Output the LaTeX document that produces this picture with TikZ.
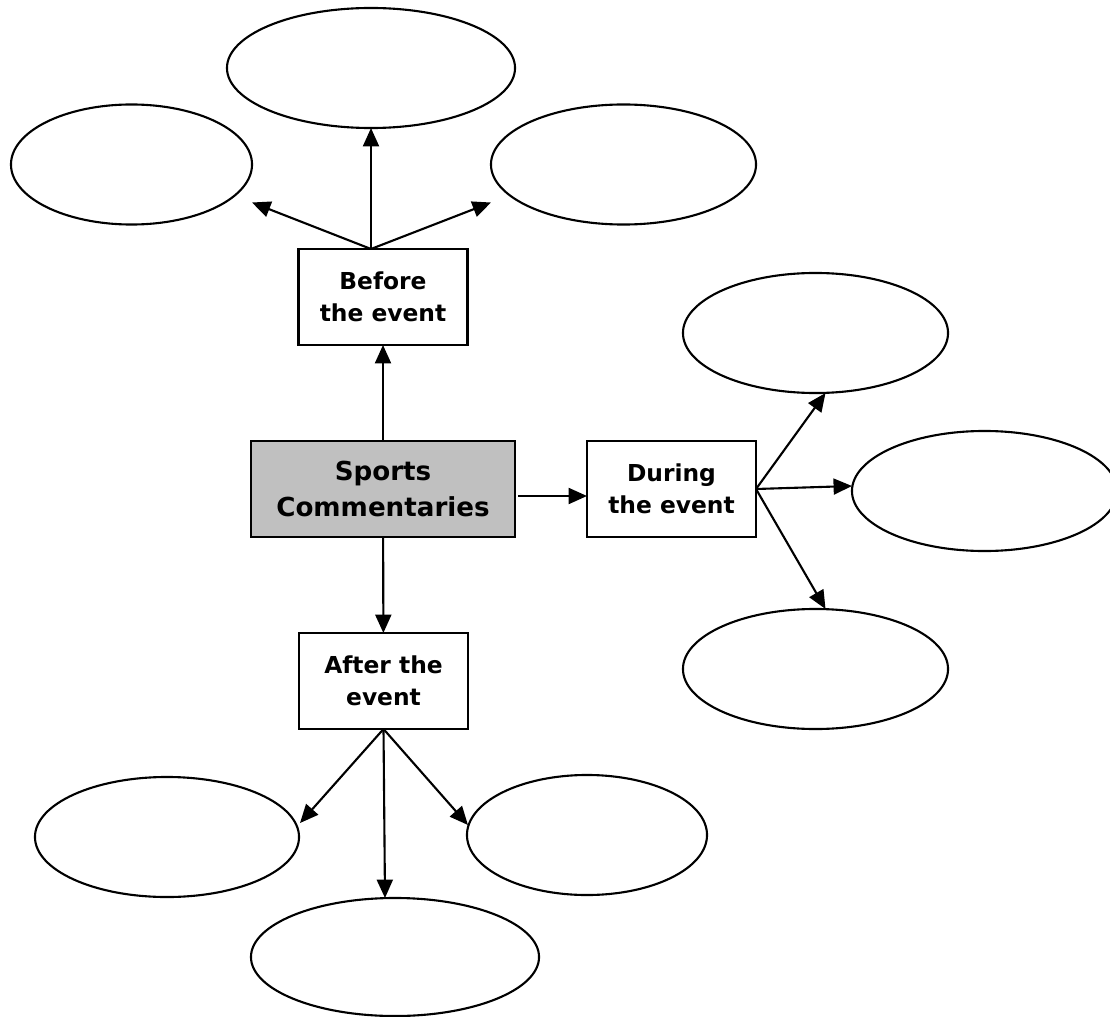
\documentclass[tikz,border=0pt]{standalone}
\usepackage{fontspec}
\setmainfont{DejaVu Sans}
\usetikzlibrary{arrows.meta,shapes.geometric,calc}
\definecolor{boxgray}{RGB}{192,192,192}

\begin{document}
\begin{tikzpicture}[x=0.025cm,y=-0.025cm,>={Triangle[length=4.6mm,width=4mm]},line width=1.5pt,
        stage/.style={draw,rectangle,align=center,inner sep=0pt,outer sep=0pt,
            minimum width=4.225cm,minimum height=2.4cm,
            font=\bfseries\fontsize{16.6}{23}\selectfont},
        blank/.style={draw,ellipse,inner sep=0pt,outer sep=0pt,minimum height=3cm}]
    \useasboundingbox (0,0) rectangle (1110,1017);
    % the four boxes
    \node[stage,fill=boxgray,minimum width=6.6cm,font=\bfseries\fontsize{18.6}{25}\selectfont]
        (sports) at (383,489) {Sports\\Commentaries};
    \node[stage] (before) at (383,297) {Before\\the event};
    \node[stage] (during) at (671.5,489) {During\\the event};
    \node[stage] (after) at (383.5,681) {After the\\event};
    % empty ovals
    \node[blank,minimum width=7.2cm] (b_top) at (371,68) {};
    \node[blank,minimum width=6.025cm] (b_left) at (131.5,164.5) {};
    \node[blank,minimum width=6.625cm] (b_right) at (623.5,164.5) {};
    \node[blank,minimum width=6.625cm] (d_1) at (815.5,333) {};
    \node[blank,minimum width=6.625cm] (d_2) at (984.5,491) {};
    \node[blank,minimum width=6.625cm] (d_3) at (815.5,669) {};
    \node[blank,minimum width=6.6cm] (a_1) at (167,837) {};
    \node[blank,minimum width=6cm] (a_2) at (587,835) {};
    \node[blank,minimum width=7.2cm,minimum height=2.95cm] (a_3) at (395,957) {};
    % arrows
    \draw[->] (sports) -- (before);
    \draw[->] ($(sports.east)+(3,7)$) -- ($(during.west)+(0,7)$);
    \draw[->] (sports) -- (after);
    \coordinate (fork_b) at ($(before.north)+(-12,0)$);
    \draw[->] (fork_b) -- (b_top.south);
    \draw[->] (fork_b) -- ($(b_left.east)+(0,38)$);
    \draw[->] (fork_b) -- ($(b_right.west)+(0,38)$);
    \draw[->] (during.east) -- ($(d_1.south)+(10,0)$);
    \draw[->] (during.east) -- ($(d_2.west)+(0,-5)$);
    \draw[->] (during.east) -- ($(d_3.north)+(10,0)$);
    \draw[->] (after.south) -- ($(a_1.east)+(1,-14)$);
    \draw[->] (after.south) -- ($(a_2.west)+(1,-10)$);
    \draw[->] (after.south) -- ($(a_3.north)+(-10,0)$);
\end{tikzpicture}
\end{document}
